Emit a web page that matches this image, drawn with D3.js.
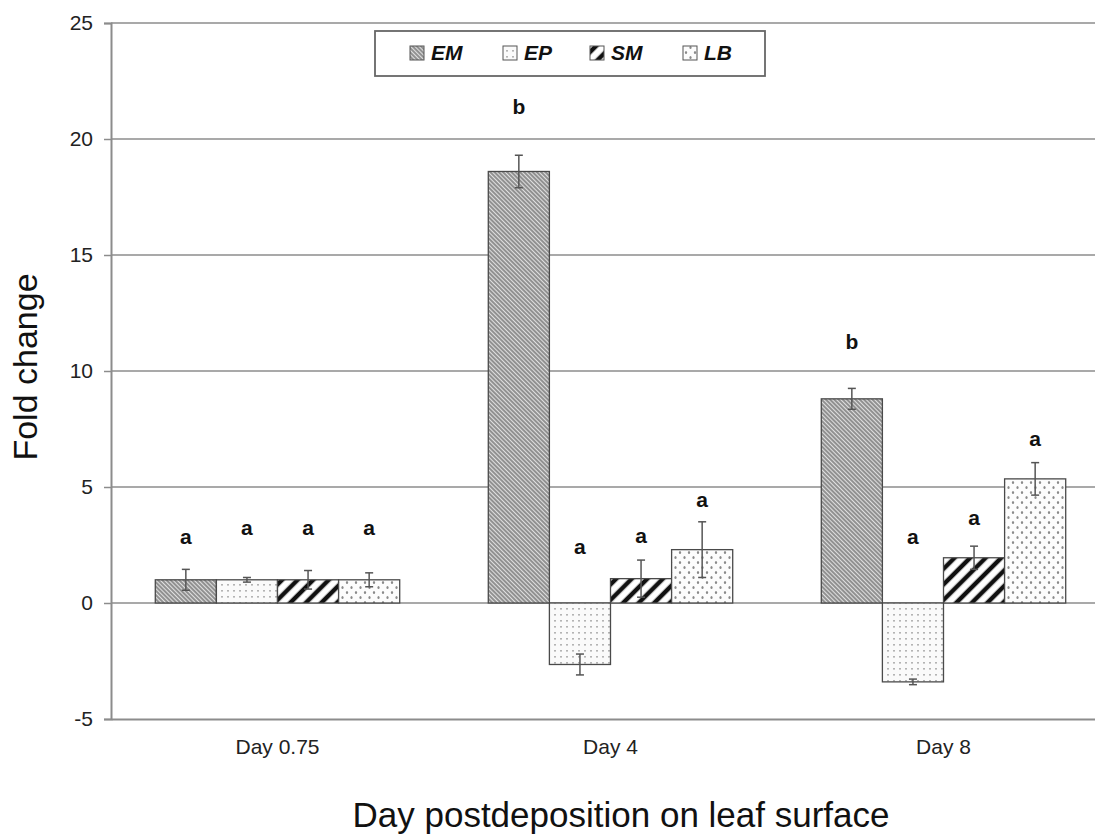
<!DOCTYPE html>
<html>
<head>
<meta charset="utf-8">
<script src="https://cdn.jsdelivr.net/npm/d3@7"></script>
<style>
  body { margin: 0; background: #fff; }
  svg { display: block; font-family: "Liberation Sans", Arial, sans-serif; }
</style>
</head>
<body>
<svg></svg>
<script>
const width = 1095;
const height = 837;

// data
const days = ["Day 0.75", "Day 4", "Day 8"];
const series = ["EM", "EP", "SM", "LB"];
const EM = [1.0, 18.6, 8.8];
const EP = [1.0, -2.65, -3.4];
const SM = [1.0, 1.05, 1.95];
const LB = [1.0, 2.3, 5.35];
const errEM = [0.45, 0.7, 0.45];
const errEP = [0.1, 0.45, 0.12];
const errSM = [0.4, 0.8, 0.5];
const errLB = [0.3, 1.2, 0.7];
const letters = [["a", "a", "a", "a"], ["b", "a", "a", "a"], ["b", "a", "a", "a"]];
const letterAt = [[2.85, 3.25, 3.25, 3.25], [21.4, 2.45, 2.9, 4.45], [11.25, 2.85, 3.7, 7.1]];
const yTicks = [-5, 0, 5, 10, 15, 20, 25];

const values = { EM: EM, EP: EP, SM: SM, LB: LB };
const errors = { EM: errEM, EP: errEP, SM: errSM, LB: errLB };

const svg = d3.select("svg").attr("width", width).attr("height", height);

const x0 = d3.scaleBand().domain(days).range([111, 1110]);
const bw = x0.bandwidth();
const x1 = d3.scaleBand().domain(series).range([bw * 0.133, bw * 0.867]);
const y = d3.scaleLinear().domain([-5, 25]).range([719, 23]);

// patterns
const defs = svg.append("defs");

let p = defs.append("pattern").attr("id", "pEM").attr("patternUnits", "userSpaceOnUse")
  .attr("width", 3).attr("height", 3).attr("patternTransform", "rotate(-45)");
p.append("rect").attr("width", 3).attr("height", 3).attr("fill", "#e0e0e0");
p.append("line").attr("x1", 1).attr("x2", 1).attr("y1", 0).attr("y2", 3)
  .attr("stroke", "#666").attr("stroke-width", 1.3);

p = defs.append("pattern").attr("id", "pEP").attr("patternUnits", "userSpaceOnUse")
  .attr("width", 6).attr("height", 6);
p.append("rect").attr("width", 6).attr("height", 6).attr("fill", "#fafafa");
p.append("rect").attr("x", 2).attr("y", 2).attr("width", 2).attr("height", 1.6).attr("fill", "#b4b4b4");

p = defs.append("pattern").attr("id", "pSM").attr("patternUnits", "userSpaceOnUse")
  .attr("width", 11).attr("height", 11).attr("patternTransform", "rotate(45)");
p.append("rect").attr("width", 11).attr("height", 11).attr("fill", "#fff");
p.append("line").attr("x1", 3).attr("x2", 3).attr("y1", 0).attr("y2", 11)
  .attr("stroke", "#111").attr("stroke-width", 4.5);

p = defs.append("pattern").attr("id", "pLB").attr("patternUnits", "userSpaceOnUse")
  .attr("width", 9).attr("height", 10);
p.append("rect").attr("width", 9).attr("height", 10).attr("fill", "#fcfcfc");
p.append("ellipse").attr("cx", 2).attr("cy", 2.5).attr("rx", 1.1).attr("ry", 1.6).attr("fill", "#8a8a8a");
p.append("ellipse").attr("cx", 6.5).attr("cy", 7.5).attr("rx", 1.1).attr("ry", 1.6).attr("fill", "#8a8a8a");

// gridlines
svg.append("g").selectAll("line")
  .data(yTicks.filter(d => d > -5))
  .join("line")
  .attr("x1", 111).attr("x2", width)
  .attr("y1", d => y(d)).attr("y2", d => y(d))
  .attr("stroke", "#8c8c8c").attr("stroke-width", 1.5);

// y axis
const yAxis = svg.append("g").attr("transform", "translate(111,0)")
  .call(d3.axisLeft(y).tickValues(yTicks).tickFormat(d => String(d)).tickSize(7).tickPadding(11));
yAxis.select(".domain").attr("stroke", "#8c8c8c").attr("stroke-width", 2);
yAxis.selectAll(".tick line").attr("stroke", "#8c8c8c").attr("stroke-width", 1.5);
yAxis.selectAll("text").attr("font-size", 21).attr("fill", "#222")
  .attr("font-family", "Liberation Sans, Arial, sans-serif");

// x axis at -5
const xAxis = svg.append("g").attr("transform", `translate(0,${y(-5)})`)
  .call(d3.axisBottom(x0).tickSize(0).tickPadding(20));
xAxis.select(".domain").attr("stroke", "#8c8c8c").attr("stroke-width", 2);
xAxis.selectAll("text").attr("font-size", 21).attr("fill", "#222")
  .attr("font-family", "Liberation Sans, Arial, sans-serif");

// bars
const groups = svg.append("g").selectAll("g")
  .data(days)
  .join("g")
  .attr("transform", d => `translate(${x0(d)},0)`);

groups.each(function (day, i) {
  const g = d3.select(this);
  series.forEach((s, j) => {
    const v = values[s][i];
    const e = errors[s][i];
    const bx = x1(s);
    const cx = bx + x1.bandwidth() / 2;
    g.append("rect")
      .attr("x", bx).attr("width", x1.bandwidth())
      .attr("y", y(Math.max(0, v)))
      .attr("height", Math.abs(y(v) - y(0)))
      .attr("fill", `url(#p${s})`)
      .attr("stroke", "#4a4a4a").attr("stroke-width", 1.3);
    // error bar
    g.append("line").attr("x1", cx).attr("x2", cx)
      .attr("y1", y(v - e)).attr("y2", y(v + e))
      .attr("stroke", "#555").attr("stroke-width", 1.5);
    [v - e, v + e].forEach(t => {
      g.append("line").attr("x1", cx - 4).attr("x2", cx + 4)
        .attr("y1", y(t)).attr("y2", y(t))
        .attr("stroke", "#555").attr("stroke-width", 1.5);
    });
    g.append("text")
      .attr("x", cx).attr("y", y(letterAt[i][j]))
      .attr("dy", "0.35em")
      .attr("text-anchor", "middle")
      .attr("font-size", 21).attr("font-weight", "bold").attr("fill", "#111")
      .text(letters[i][j]);
  });
});

// legend
const legend = svg.append("g");
legend.append("rect").attr("x", 375).attr("y", 31).attr("width", 390).attr("height", 45)
  .attr("fill", "#fff").attr("stroke", "#666").attr("stroke-width", 1.8);
const legX = [410, 503, 590, 683];
series.forEach((s, i) => {
  legend.append("rect").attr("x", legX[i]).attr("y", 46).attr("width", 14).attr("height", 14)
    .attr("fill", `url(#p${s})`).attr("stroke", "#555").attr("stroke-width", 1);
  legend.append("text").attr("x", legX[i] + 21).attr("y", 60)
    .attr("font-size", 21).attr("font-weight", "bold").attr("font-style", "italic")
    .attr("fill", "#111").text(s);
});

// axis titles
svg.append("text")
  .attr("transform", `translate(37,367) rotate(-90)`)
  .attr("text-anchor", "middle")
  .attr("font-size", 34).attr("fill", "#111")
  .text("Fold change");

svg.append("text")
  .attr("x", 621).attr("y", 827)
  .attr("text-anchor", "middle")
  .attr("font-size", 35).attr("fill", "#111")
  .text("Day postdeposition on leaf surface");
</script>
</body>
</html>
